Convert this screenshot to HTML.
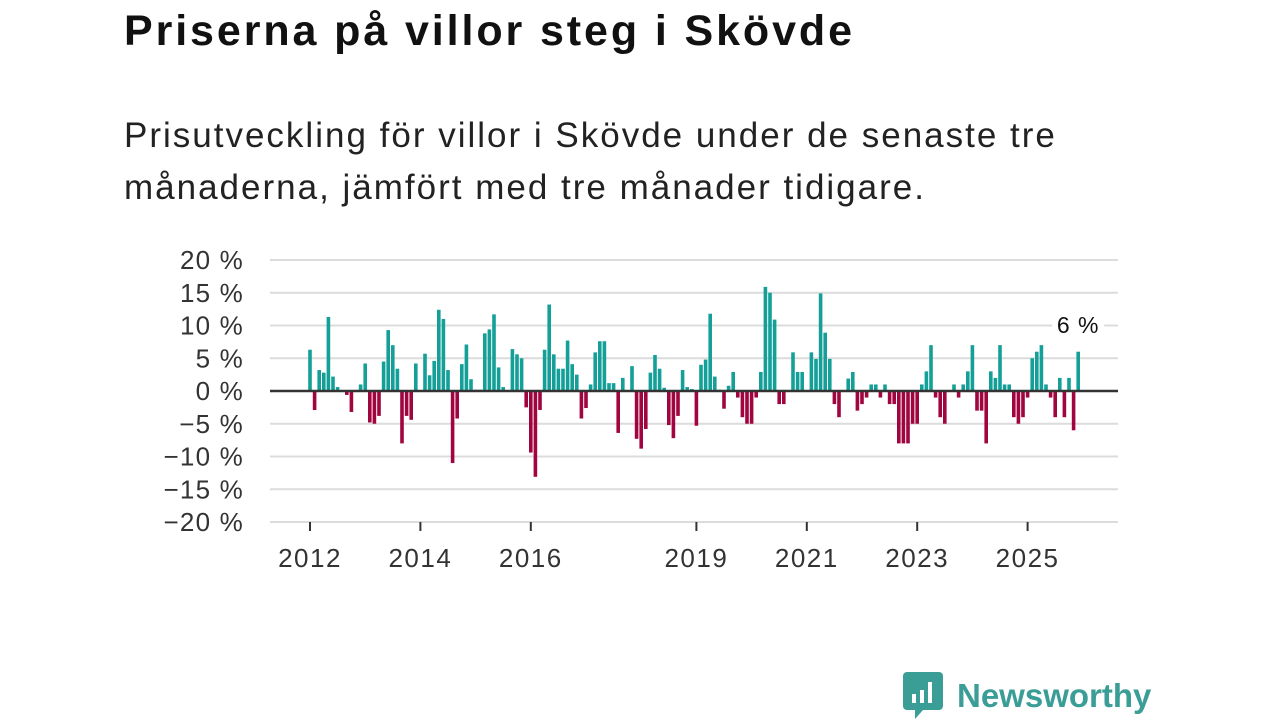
<!DOCTYPE html>
<html><head><meta charset="utf-8">
<style>
body{margin:0;width:1280px;height:720px;background:#fff;font-family:"Liberation Sans",sans-serif;overflow:hidden;position:relative}
h1{position:absolute;left:124px;top:7px;margin:0;font-size:43px;letter-spacing:2.9px;font-weight:bold;color:#111}
.sub{position:absolute;left:124px;top:110px;margin:0;font-size:35px;letter-spacing:2px;line-height:52px;color:#222}
svg{position:absolute;left:0;top:0}
</style></head><body>
<h1>Priserna på villor steg i Skövde</h1>
<p class="sub">Prisutveckling för villor i Skövde under de senaste tre<br>månaderna, jämfört med tre månader tidigare.</p>
<svg id="chart" width="1280" height="720"></svg>
<script>
const values=[6.3,-2.9,3.2,2.8,11.3,2.2,0.6,0,-0.6,-3.2,0.1,1.0,4.2,-4.8,-5,-3.8,4.5,9.3,7,3.4,-8,-3.8,-4.4,4.2,0,5.7,2.4,4.6,12.4,11,3.2,-11,-4.2,4.1,7.1,1.8,0.2,0.2,8.8,9.4,11.7,3.6,0.6,0,6.4,5.6,5.0,-2.5,-9.4,-13.1,-2.9,6.3,13.2,5.6,3.4,3.4,7.7,4.1,2.5,-4.2,-2.6,1.0,5.9,7.6,7.6,1.2,1.2,-6.4,2.0,0,3.8,-7.3,-8.8,-5.8,2.8,5.5,3.4,0.5,-5.2,-7.2,-3.8,3.2,0.6,0.3,-5.3,4,4.8,11.8,2.2,0.2,-2.7,0.8,2.9,-1,-4,-5,-5,-1,2.9,15.9,15,10.9,-2,-2,0,5.9,2.9,2.9,0,5.9,4.9,14.9,8.9,4.9,-2,-4,0,1.9,2.9,-3,-2,-1,1,1,-1,1,-2,-2,-8,-8,-8,-5,-5,1,3,7,-1,-4,-5,0,1,-1,1,3,7,-3,-3,-8,3,2,7,1,1,-4,-5,-4,-1,5,6,7,1,-1,-4,2,-4,2,-6,6];
const startYear=2012;
const yTicks=[20,15,10,5,0,-5,-10,-15,-20];
const xTickYears=[2012,2014,2016,2019,2021,2023,2025];
const NS="http://www.w3.org/2000/svg";
const svg=document.getElementById('chart');
const x0=310,mw=4.6,left=270,right=1118;
const y=v=>391-v*6.55;
const xm=i=>x0+i*mw;
function el(t,a){const e=document.createElementNS(NS,t);for(const k in a)e.setAttribute(k,a[k]);svg.appendChild(e);return e;}
yTicks.forEach(t=>{
  const g=el('line',{x1:left,x2:right,y1:y(t),y2:y(t),stroke:'#dcdcdc','stroke-width':2});
  
  
  const lb=el('text',{x:244,y:y(t)+9,'text-anchor':'end','font-size':26,'letter-spacing':1.2,fill:'#333','font-family':'Liberation Sans, sans-serif'});
  lb.textContent=(t<0?'\u2212'+(-t):t)+' %';
  
  
});
values.forEach((v,i)=>{
  const b=el('rect',{x:xm(i)-1.8,width:3.6,y:v>=0?y(v):y(0),height:Math.abs(y(v)-y(0)),fill:v>=0?'#14a098':'#a1053f'});
  
  
});
const z=el('line',{x1:left,x2:right,y1:y(0),y2:y(0),stroke:'#333','stroke-width':2.5});


xTickYears.forEach(yr=>{
  const xx=xm((yr-startYear)*12);
  const t=el('line',{x1:xx,x2:xx,y1:522,y2:531,stroke:'#333','stroke-width':2});
  
  
  const l=el('text',{x:xx,y:567,'text-anchor':'middle','font-size':26,'letter-spacing':1.5,fill:'#333','font-family':'Liberation Sans, sans-serif'});
  l.textContent=yr;
  
  
});
const last=values.length-1;
const bg=el('rect',{x:xm(last)-26,y:310,width:52,height:28,fill:'#fff'});


const lv=el('text',{x:xm(last),y:333,'text-anchor':'middle','font-size':23,'letter-spacing':1,fill:'#111','font-family':'Liberation Sans, sans-serif'});
lv.textContent=Math.round(values[last])+' %';


</script>
<div style="position:absolute;left:903px;top:672px;display:flex;align-items:center">
<svg width="40" height="48" style="position:static"><path d="M4 0h32a4 4 0 0 1 4 4v30a4 4 0 0 1-4 4H20l-8 9v-9H4a4 4 0 0 1-4-4V4a4 4 0 0 1 4-4z" fill="#3a9d96"/><rect x="9" y="22" width="4" height="9" fill="#fff"/><rect x="17" y="18" width="4" height="13" fill="#fff"/><rect x="25" y="10" width="4" height="21" fill="#fff"/></svg>
<span style="margin-left:14px;font-size:33px;font-weight:bold;color:#3a9d96">Newsworthy</span></div>
</body></html>
